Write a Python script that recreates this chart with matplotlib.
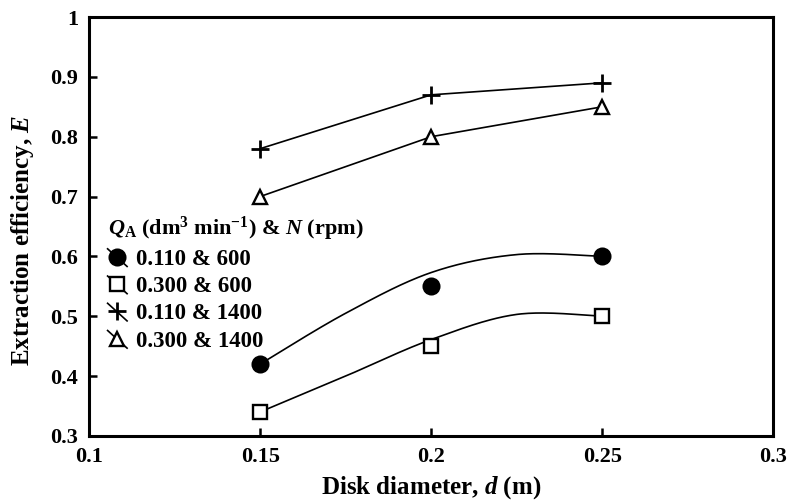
import matplotlib
matplotlib.use('Agg')
import matplotlib.pyplot as plt
import numpy as np
from matplotlib.lines import Line2D
from matplotlib.legend_handler import HandlerBase

plt.rcParams['font.family'] = 'Liberation Serif'
plt.rcParams['font.weight'] = 'bold'
plt.rcParams['axes.labelweight'] = 'bold'
plt.rcParams['mathtext.fontset'] = 'custom'
plt.rcParams['mathtext.rm'] = 'Liberation Serif:bold'
plt.rcParams['mathtext.it'] = 'Liberation Serif:italic:bold'
plt.rcParams['mathtext.bf'] = 'Liberation Serif:bold'

# disk diameter (m) and extraction efficiency
d = [0.15, 0.20, 0.25]
E_110_600 = [0.42, 0.55, 0.60]
E_300_600 = [0.34, 0.45, 0.50]
E_110_1400 = [0.78, 0.87, 0.89]
E_300_1400 = [0.70, 0.80, 0.85]

# smoothed trend curves for the 600 rpm series
d_fit = [0.15, 0.175, 0.20, 0.225, 0.25]
fit_110_600 = [0.42, 0.505, 0.573, 0.603, 0.60]
fit_300_600 = [0.34, 0.400, 0.461, 0.503, 0.50]

labels = ['0.110 & 600', '0.300 & 600', '0.110 & 1400', '0.300 & 1400']
xticks = [0.1, 0.15, 0.2, 0.25, 0.3]
xticklabels = ['0.1', '0.15', '0.2', '0.25', '0.3']
yticks = [0.3, 0.4, 0.5, 0.6, 0.7, 0.8, 0.9, 1.0]
yticklabels = ['0.3', '0.4', '0.5', '0.6', '0.7', '0.8', '0.9', '1']


def smooth(x, y, n=40):
    # bezier smoothing through the points, like a spreadsheet "smoothed line"
    p = np.column_stack([x, y]).astype(float)
    pts = np.vstack([p[0], p, p[-1]])
    out = []
    t = np.linspace(0, 1, n)[:, None]
    for i in range(1, len(pts) - 2):
        p0, p1, p2, p3 = pts[i - 1], pts[i], pts[i + 1], pts[i + 2]
        c1 = p1 + (p2 - p0) / 6.0
        c2 = p2 - (p3 - p1) / 6.0
        seg = ((1 - t) ** 3) * p1 + 3 * ((1 - t) ** 2) * t * c1 + 3 * (1 - t) * t ** 2 * c2 + t ** 3 * p2
        out.append(seg)
    out = np.vstack(out)
    return out[:, 0], out[:, 1]


class HandlerSlash(HandlerBase):
    # short diagonal line with the marker sitting on it
    def create_artists(self, legend, orig_handle, xdescent, ydescent,
                       width, height, fontsize, trans):
        x0, y0 = -xdescent, -ydescent
        ln = Line2D([x0, x0 + width], [y0 + height * 1.0, y0 - height * 0.1],
                    color='black', lw=1.2, transform=trans)
        mk = Line2D([x0 + width / 2], [y0 + height / 2], linestyle='none',
                    marker=orig_handle.get_marker(),
                    markersize=orig_handle.get_markersize(),
                    markerfacecolor=orig_handle.get_markerfacecolor(),
                    markeredgecolor='black',
                    markeredgewidth=orig_handle.get_markeredgewidth(),
                    transform=trans)
        return [ln, mk]


fig = plt.figure(figsize=(8.03, 5.01), dpi=100)
ax = fig.add_axes([0.111, 0.130, 0.852, 0.836])

xs, ys = smooth(d_fit, fit_110_600)
ax.plot(xs, ys, color='black', lw=1.2)
xs, ys = smooth(d_fit, fit_300_600)
ax.plot(xs, ys, color='black', lw=1.2)
ax.plot(d, E_110_1400, color='black', lw=1.2)
ax.plot(d, E_300_1400, color='black', lw=1.2)

h1, = ax.plot(d, E_110_600, 'o', ms=11.5, mfc='black', mec='black', mew=1.5)
h2, = ax.plot(d, E_300_600, 's', ms=10, mfc='white', mec='black', mew=1.7)
h3, = ax.plot(d, E_110_1400, '+', ms=13, mec='black', mew=2.0)
h4, = ax.plot(d, E_300_1400, '^', ms=10, mfc='white', mec='black', mew=1.7)

ax.set_xlim(0.1, 0.3)
ax.set_ylim(0.3, 1.0)
ax.set_xticks(xticks)
ax.set_xticklabels(xticklabels)
ax.set_yticks(yticks)
ax.set_yticklabels(yticklabels)
ax.tick_params(direction='in', length=6, width=1.8, labelsize=16, pad=8)
for s in ax.spines.values():
    s.set_linewidth(2.2)

ax.set_xlabel('Disk diameter, $d$ (m)', fontsize=18, labelpad=5)
ax.set_ylabel('Extraction efficiency, $E$', fontsize=18)
ax.yaxis.set_label_coords(-0.077, 0.468)

leg = ax.legend([h1, h2, h3, h4], labels,
                handler_map={Line2D: HandlerSlash()},
                title='$Q_{\\mathrm{A}}$ (dm$^{3}$ min$^{-1}$) & $N$ (rpm)',
                loc='upper left', bbox_to_anchor=(0.134, 0.572),
                bbox_transform=fig.transFigure,
                frameon=False, fontsize=16.5, title_fontsize=16,
                handlelength=0.85, handletextpad=0.4, labelspacing=0.27,
                borderpad=0, borderaxespad=0)
leg._legend_box.align = 'left'
for t in leg.get_texts():
    t.set_fontweight('bold')
leg.get_title().set_fontweight('bold')

fig.savefig('out.png', dpi=100)
